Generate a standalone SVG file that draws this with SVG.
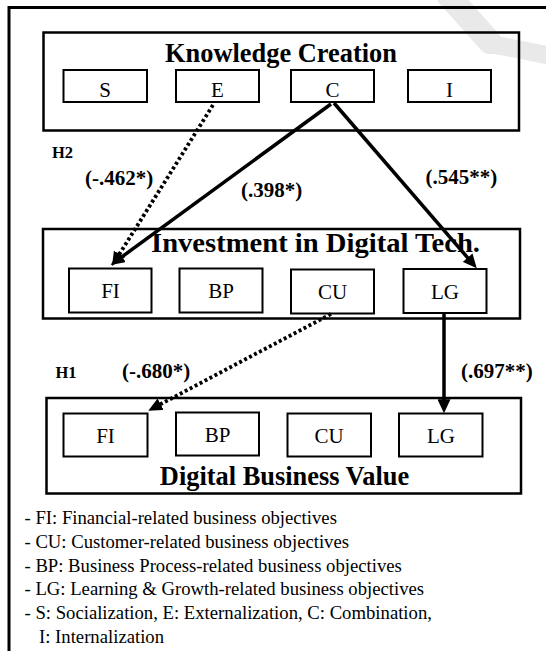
<svg xmlns="http://www.w3.org/2000/svg" width="546" height="651" viewBox="0 0 546 651">
<style>
.frame{fill:none;stroke:#000;stroke-width:3}
.grp{fill:none;stroke:#000;stroke-width:2.5}
.box{fill:#fff;stroke:#000;stroke-width:2}
.t{font-family:"Liberation Serif","Times New Roman",serif;fill:#000}
.title{font-size:26.4px;font-weight:bold;text-anchor:middle}
.lbl{font-size:21px;text-anchor:middle}
.coef{font-size:21px;font-weight:bold}
.hyp{font-size:16.5px;font-weight:bold}
.leg{font-size:18.7px}
.solid{fill:none;stroke:#000;stroke-width:3.5}
.dot{fill:none;stroke:#000;stroke-width:3.8;stroke-dasharray:3 2.6}
</style>
<defs>
<marker id="ah" markerUnits="userSpaceOnUse" markerWidth="14" markerHeight="13" viewBox="0 0 14 13" refX="4" refY="6.5" orient="auto">
<path d="M0,0 L14,6.5 L0,13 z" fill="#000"/>
</marker>
</defs>
<rect width="546" height="651" fill="#fff"/>
<g id="watermark" fill="none" stroke="#e9e9e9" stroke-linecap="round">
<path d="M448,-5 L490,42" stroke-width="24"/>
<path d="M488,44 Q515,48 550,56" stroke-width="18"/>
</g>
<rect class="frame" x="9" y="7.5" width="560" height="660"/>

<g id="knowledge-creation">
<rect class="grp" x="43.5" y="32.5" width="475.5" height="98"/>
<text class="t title" x="281" y="62">Knowledge Creation</text>
</g>
<g id="kc-S"><rect class="box" x="63.5" y="70" width="83.5" height="32"/><text class="t lbl" x="105" y="97">S</text></g>
<g id="kc-E"><rect class="box" x="176" y="70" width="83" height="32"/><text class="t lbl" x="217.5" y="97">E</text></g>
<g id="kc-C"><rect class="box" x="291" y="70" width="83" height="32"/><text class="t lbl" x="332.5" y="97">C</text></g>
<g id="kc-I"><rect class="box" x="408" y="70" width="83" height="32"/><text class="t lbl" x="449.5" y="97">I</text></g>

<g id="investment">
<rect class="grp" x="43" y="229" width="477" height="89.5"/>
<text class="t title" x="151" y="252" text-anchor="start" style="text-anchor:start" textLength="329" lengthAdjust="spacingAndGlyphs">Investment in Digital Tech.</text>
</g>
<g id="idt-FI"><rect class="box" x="69" y="268.5" width="82.5" height="44"/><text class="t lbl" x="110.5" y="298">FI</text></g>
<g id="idt-BP"><rect class="box" x="179.5" y="268.5" width="83" height="44"/><text class="t lbl" x="221" y="298">BP</text></g>
<g id="idt-CU"><rect class="box" x="291" y="269.5" width="83" height="44"/><text class="t lbl" x="332.5" y="299">CU</text></g>
<g id="idt-LG"><rect class="box" x="403.5" y="269" width="83" height="44"/><text class="t lbl" x="445" y="299">LG</text></g>

<g id="digital-business-value">
<rect class="grp" x="46.5" y="398" width="474.5" height="95.5"/>
<text class="t title" x="284.5" y="485">Digital Business Value</text>
</g>
<g id="dbv-FI"><rect class="box" x="63.5" y="413.5" width="84" height="43"/><text class="t lbl" x="105.5" y="443">FI</text></g>
<g id="dbv-BP"><rect class="box" x="176" y="412.5" width="83" height="43"/><text class="t lbl" x="217.5" y="442">BP</text></g>
<g id="dbv-CU"><rect class="box" x="287.5" y="413.5" width="83.5" height="43"/><text class="t lbl" x="329" y="443">CU</text></g>
<g id="dbv-LG"><rect class="box" x="399" y="413.5" width="83.5" height="43"/><text class="t lbl" x="441" y="443">LG</text></g>

<g id="connectors">
<line class="dot" x1="213" y1="105" x2="117.3" y2="257.5" marker-end="url(#ah)"/>
<line class="solid" x1="331" y1="104" x2="118.8" y2="259.1" marker-end="url(#ah)"/>
<line class="solid" x1="334" y1="103" x2="470.2" y2="260.7" marker-end="url(#ah)"/>
<line class="dot" x1="331" y1="314" x2="157.1" y2="406" marker-end="url(#ah)"/>
<line class="solid" x1="444" y1="313" x2="444" y2="403.3" marker-end="url(#ah)"/>
</g>

<g id="labels">
<text class="t hyp" x="52" y="158">H2</text>
<text class="t coef" x="85" y="184.5">(-.462*)</text>
<text class="t coef" x="241" y="197">(.398*)</text>
<text class="t coef" x="425.5" y="184">(.545**)</text>
<text class="t hyp" x="55.5" y="378">H1</text>
<text class="t coef" x="122" y="378">(-.680*)</text>
<text class="t coef" x="461" y="378">(.697**)</text>
</g>

<g id="legend" class="t leg">
<text x="24.5" y="524">- FI: Financial-related business objectives</text>
<text x="24.5" y="548">- CU: Customer-related business objectives</text>
<text x="24.5" y="571.5">- BP: Business Process-related business objectives</text>
<text x="24.5" y="595">- LG: Learning &amp; Growth-related business objectives</text>
<text x="24.5" y="619">- S: Socialization, E: Externalization, C: Combination,</text>
<text x="39" y="643">I: Internalization</text>
</g>
</svg>
